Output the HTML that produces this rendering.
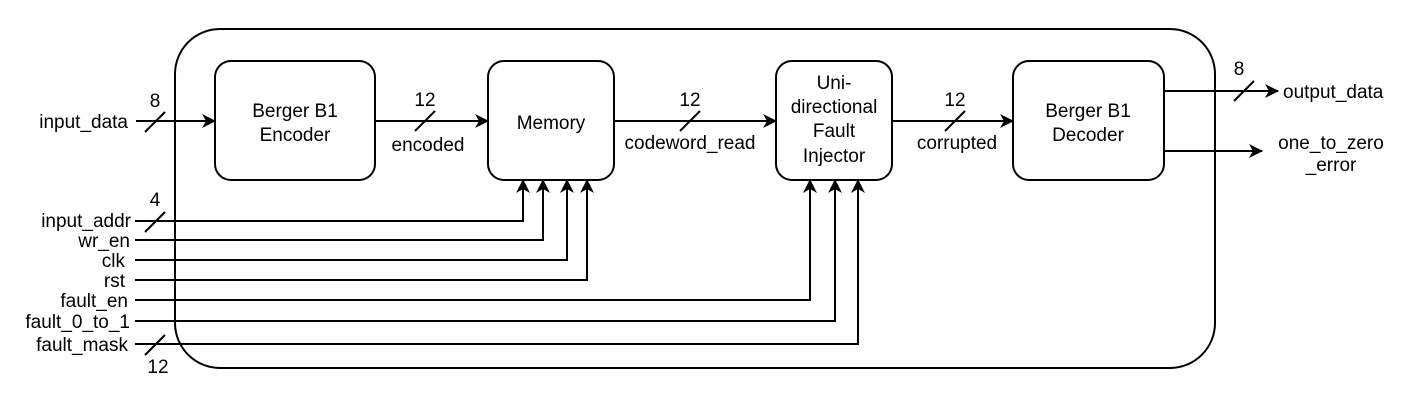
<!DOCTYPE html>
<html><head><meta charset="utf-8"><style>
html,body{margin:0;padding:0;background:#fff;}
svg{display:block;}
text{font-family:"Liberation Sans",Arial,sans-serif;font-size:19px;fill:#000;}
</style></head><body>
<svg width="1414" height="400" viewBox="0 0 1414 400" xmlns="http://www.w3.org/2000/svg">
<defs>
<marker id="a" viewBox="0 0 14 14" refX="13" refY="7" markerWidth="14" markerHeight="14" markerUnits="userSpaceOnUse" orient="auto">
<path d="M0,0 L14,7 L0,14 L4,7 Z" fill="#000"/>
</marker>
</defs>
<g fill="none" stroke="#000" stroke-width="2">
<rect x="175" y="29" width="1040" height="339" rx="45"/>
<rect x="215" y="61" width="160" height="119" rx="16"/>
<rect x="488" y="61" width="126" height="119" rx="16"/>
<rect x="776" y="61" width="116" height="119" rx="16"/>
<rect x="1013" y="61" width="151" height="119" rx="16"/>
<line x1="136" y1="121" x2="215" y2="121" marker-end="url(#a)"/>
<line x1="375" y1="121" x2="488" y2="121" marker-end="url(#a)"/>
<line x1="614" y1="121" x2="776" y2="121" marker-end="url(#a)"/>
<line x1="892" y1="121" x2="1013" y2="121" marker-end="url(#a)"/>
<line x1="1164" y1="91" x2="1278" y2="91" marker-end="url(#a)"/>
<line x1="1164" y1="151" x2="1262" y2="151" marker-end="url(#a)"/>
<line x1="145" y1="132" x2="165" y2="112"/>
<line x1="415" y1="131" x2="435" y2="111"/>
<line x1="680" y1="131" x2="700" y2="111"/>
<line x1="945" y1="131" x2="965" y2="111"/>
<line x1="1234" y1="101" x2="1254" y2="81"/>
<line x1="145" y1="232" x2="165" y2="212"/>
<line x1="145" y1="355" x2="165" y2="335"/>
<polyline points="135,221 523,221 523,180" marker-end="url(#a)"/>
<polyline points="135,240 543,240 543,180" marker-end="url(#a)"/>
<polyline points="135,260 567,260 567,180" marker-end="url(#a)"/>
<polyline points="135,280 587,280 587,180" marker-end="url(#a)"/>
<polyline points="135,300 810,300 810,180" marker-end="url(#a)"/>
<polyline points="135,321 835,321 835,180" marker-end="url(#a)"/>
<polyline points="135,344 858,344 858,180" marker-end="url(#a)"/>
</g>
<g text-anchor="middle">
<text x="295" y="117">Berger B1</text>
<text x="295" y="141">Encoder</text>
<text x="551" y="129">Memory</text>
<text x="834" y="89">Uni-</text>
<text x="834" y="113">directional</text>
<text x="834" y="137">Fault</text>
<text x="834" y="162">Injector</text>
<text x="1088" y="117">Berger B1</text>
<text x="1088" y="141">Decoder</text>
<text x="155" y="107">8</text>
<text x="425" y="106">12</text>
<text x="428" y="151">encoded</text>
<text x="690" y="106">12</text>
<text x="690" y="149">codeword_read</text>
<text x="955" y="106">12</text>
<text x="957" y="149">corrupted</text>
<text x="1239" y="75">8</text>
<text x="1331" y="149">one_to_zero</text>
<text x="1331" y="171">_error</text>
<text x="155" y="206">4</text>
<text x="158" y="373">12</text>
</g>
<g text-anchor="end">
<text x="128" y="128">input_data</text>
<text x="131" y="227">input_addr</text>
<text x="130" y="247">wr_en</text>
<text x="125" y="267">clk</text>
<text x="125" y="287">rst</text>
<text x="128" y="307">fault_en</text>
<text x="130" y="328">fault_0_to_1</text>
<text x="128" y="351">fault_mask</text>
</g>
<text x="1283" y="98">output_data</text>
</svg>
</body></html>
